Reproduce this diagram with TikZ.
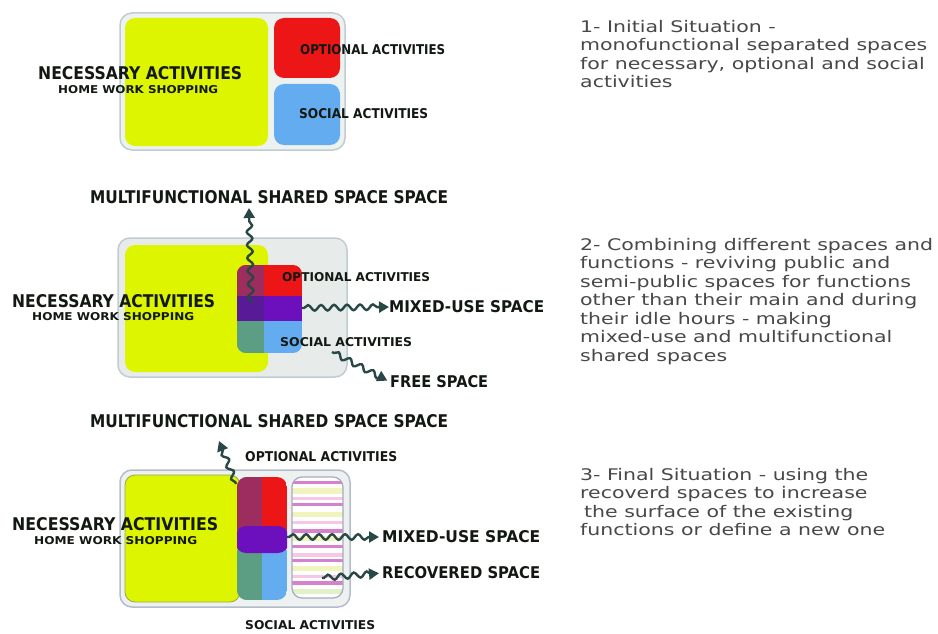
\documentclass[tikz,border=0pt]{standalone}
\usepackage{fontspec}
\usepackage{graphicx}
\setmainfont{DejaVu Sans}
\newfontfamily\descfont{DejaVu Sans}[FakeStretch=1.28]
\newfontfamily\lblfont{DejaVu Sans}
\usetikzlibrary{arrows.meta,decorations.pathmorphing}
\definecolor{yel}{RGB}{222,245,0}
\definecolor{redc}{RGB}{236,22,22}
\definecolor{bluec}{RGB}{100,172,240}
\definecolor{purp}{RGB}{108,16,190}
\definecolor{purpd}{RGB}{88,26,150}
\definecolor{mauve}{RGB}{158,45,95}
\definecolor{tealg}{RGB}{92,158,132}
\definecolor{outerfill}{RGB}{237,242,241}
\definecolor{outerdraw}{RGB}{192,204,210}
\definecolor{arrowc}{RGB}{40,72,70}
\definecolor{lblc}{RGB}{18,24,18}
\definecolor{descc}{RGB}{72,72,72}
\definecolor{stm}{RGB}{214,128,206}
\definecolor{sty}{RGB}{242,244,190}
\definecolor{stp}{RGB}{246,200,230}
\definecolor{stg}{RGB}{226,242,200}
\definecolor{stripedraw}{RGB}{168,168,192}
\newcommand\lbltext[3]{\resizebox{#1pt}{#2pt}{\lblfont\bfseries #3}}
\tikzset{
  outerbox/.style={draw=outerdraw, fill=outerfill, line width=1.5pt, rounded corners=12pt},
  yelbox/.style={fill=yel, rounded corners=10pt},
  lbl/.style={inner sep=0pt, anchor=west, text=lblc},
  desc/.style={inner sep=0pt, anchor=north west, align=left, text=descc,
    font=\descfont\fontsize{16}{18.5}\selectfont},
  wavy/.style={draw=arrowc, line width=2.4pt, decorate,
    decoration={snake, amplitude=2.8pt, segment length=13pt, pre length=2pt, post length=9pt},
    -{Triangle[length=10pt,width=11pt]}}
}
\begin{document}
\begin{tikzpicture}[x=1pt,y=-1pt]
\useasboundingbox (0,0) rectangle (938,634);
\fill[white] (0,0) rectangle (938,634);

% ---------------- Panel 1 ----------------
\draw[outerbox] (120,13) rectangle (345,150);
\fill[yelbox] (125,18) rectangle (268,146);
\fill[redc, rounded corners=10pt] (274,18) rectangle (340,78);
\fill[bluec, rounded corners=10pt] (274,84) rectangle (340,145);
\node[lbl] (nec1) at (38,73) {\lbltext{204}{13}{NECESSARY ACTIVITIES}};
\node[lbl] (home1) at (58,90) {\lbltext{160}{8}{HOME WORK SHOPPING}};
\node[lbl] (opt1) at (300,50) {\lbltext{145}{10}{OPTIONAL ACTIVITIES}};
\node[lbl] (soc1) at (299,114) {\lbltext{129}{10}{SOCIAL ACTIVITIES}};

% ---------------- Panel 2 ----------------
\draw[outerbox, fill={rgb,255:red,231;green,236;blue,235}] (118,238) rectangle (347,377);
\fill[yelbox] (125,245) rectangle (268,372);
\begin{scope}
\clip[rounded corners=9pt] (237,265) rectangle (302,353);
\fill[redc] (237,265) rectangle (302,297);
\fill[mauve] (237,265) rectangle (264,297);
\fill[bluec] (237,320) rectangle (302,353);
\fill[tealg] (237,320) rectangle (264,353);
\fill[purp] (237,296) rectangle (302,321);
\fill[purpd] (237,296) rectangle (264,321);
\end{scope}
\node[lbl] (multi2) at (90,197) {\lbltext{358}{13}{MULTIFUNCTIONAL SHARED SPACE SPACE}};
\node[lbl] (nec2) at (12,301) {\lbltext{203}{13}{NECESSARY ACTIVITIES}};
\node[lbl] (home2) at (32,317) {\lbltext{162}{8}{HOME WORK SHOPPING}};
\node[lbl] (opt2) at (282,277) {\lbltext{148}{9}{OPTIONAL ACTIVITIES}};
\node[lbl] (soc2) at (280,342) {\lbltext{132}{9}{SOCIAL ACTIVITIES}};
\node[lbl] (mx2) at (389,307) {\lbltext{155}{12}{MIXED-USE SPACE}};
\node[lbl] (free2) at (390,382) {\lbltext{98}{12}{FREE SPACE}};
\coordinate (u2s) at (251,303);
\coordinate (u2e) at (249,208);
\coordinate (m2s) at (302,308);
\coordinate (f2s) at (332,352);
\draw[wavy] (u2s) -- (u2e);
\draw[wavy] (m2s) -- (mx2.west);
\draw[wavy, shorten >=3pt] (f2s) -- (free2.west);

% ---------------- Panel 3 ----------------
\draw[outerbox, draw={rgb,255:red,180;green,188;blue,204}] (120,470) rectangle (350,607);
\draw[yelbox, draw={rgb,255:red,150;green,165;blue,90}, line width=0.8pt] (125,475) rectangle (240,602);
\begin{scope}
\clip[rounded corners=10pt] (237,477) rectangle (287,600);
\fill[redc] (237,477) rectangle (287,530);
\fill[mauve] (237,477) rectangle (262,530);
\fill[bluec] (237,550) rectangle (287,600);
\fill[tealg] (237,550) rectangle (262,600);
\fill[purp, rounded corners=11pt] (235,526) rectangle (289,553);
\end{scope}
\begin{scope}
\clip[rounded corners=10pt] (292,477) rectangle (343,598);
\fill[white] (292,477) rectangle (343,598);
\foreach \y/\h/\c in {481/3/stm, 488/6/sty, 497/3/stp, 503/3/stm, 512/5/sty, 521/3/stp,
  529/4/stm, 536/5/sty, 545/3/stm, 553/4/stp, 559/3/stm, 566/5/sty, 575/3/stp,
  581/4/stm, 589/5/stg}
  \fill[\c] (292,\y) rectangle (343,\y+\h);
\end{scope}
\draw[stripedraw, line width=1.2pt, rounded corners=10pt] (292,477) rectangle (343,598);
\node[lbl] (multi3) at (90,421) {\lbltext{358}{13}{MULTIFUNCTIONAL SHARED SPACE SPACE}};
\node[lbl] (nec3) at (12,524) {\lbltext{206}{13}{NECESSARY ACTIVITIES}};
\node[lbl] (home3) at (34,541) {\lbltext{163}{8}{HOME WORK SHOPPING}};
\node[lbl] (opt3) at (245,457) {\lbltext{152}{10}{OPTIONAL ACTIVITIES}};
\node[lbl] (mx3) at (382,537) {\lbltext{158}{12}{MIXED-USE SPACE}};
\node[lbl] (rec3) at (382,573) {\lbltext{158}{12}{RECOVERED SPACE}};
\node[lbl] (soc3) at (245,625) {\lbltext{130}{9}{SOCIAL ACTIVITIES}};
\coordinate (u3s) at (236,484);
\coordinate (u3e) at (219,441);
\coordinate (m3s) at (287,537);
\coordinate (r3s) at (322,578);
\draw[wavy] (u3s) -- (u3e);
\draw[wavy, shorten >=3pt] (m3s) -- (mx3.west);
\draw[wavy, shorten >=3pt] (r3s) -- (rec3.west);

% ---------------- Descriptions ----------------
\node[desc] (d1) at (580,20) {1- Initial Situation -\\monofunctional separated spaces\\for necessary, optional and social\\activities};
\node[desc] (d2) at (580,238) {2- Combining different spaces and\\functions - reviving public and\\semi-public spaces for functions\\other than their main and during\\their idle hours - making\\mixed-use and multifunctional\\shared spaces};
\node[desc] (d3) at (580,468) {3- Final Situation - using the\\recoverd spaces to increase\\\hspace{4pt}the surface of the existing\\functions or define a new one};
\end{tikzpicture}
\end{document}
